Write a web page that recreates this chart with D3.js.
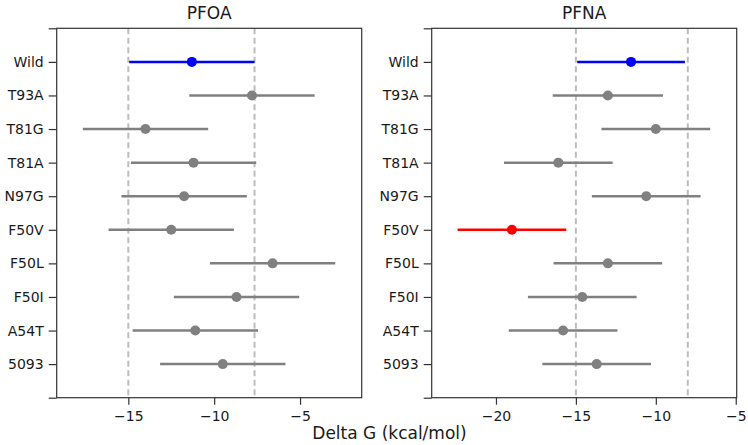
<!DOCTYPE html>
<html>
<head>
<meta charset="utf-8">
<script src="https://cdn.jsdelivr.net/npm/d3@7"></script>
<style>
  html, body { margin: 0; padding: 0; background: #fff; }
  svg { display: block; font-family: "DejaVu Sans", sans-serif; }
</style>
</head>
<body>
<svg id="chart" width="748" height="445"></svg>
<script>
const categories = ["Wild", "T93A", "T81G", "T81A", "N97G", "F50V", "F50L", "F50I", "A54T", "5093"];
const pfoaMean = [-11.3, -7.8, -14.0, -11.2, -11.75, -12.5, -6.6, -8.7, -11.1, -9.5];
const pfoaErr  = [3.65, 3.65, 3.65, 3.65, 3.65, 3.65, 3.65, 3.65, 3.65, 3.65];
const pfnaMean = [-11.55, -13.0, -10.0, -16.1, -10.6, -19.0, -13.0, -14.6, -15.8, -13.7];
const pfnaErr  = [3.37, 3.45, 3.4, 3.4, 3.4, 3.4, 3.4, 3.4, 3.4, 3.4];
const pfoaRefLines = [-15, -7.65];
const pfnaRefLines = [-15, -8];
const pfoaTicks = [-15, -10, -5];
const pfnaTicks = [-20, -15, -10, -5];
const pfoaDomain = [-19.17, -1.41];
const pfnaDomain = [-24.02, -4.94];
const titles = ["PFOA", "PFNA"];
const xLabel = "Delta G (kcal/mol)";

(function () {
const svg = d3.select("#chart");
const plotTop = 28.3, plotBottom = 397.7;

function colorFor(panel, cat) {
  if (cat === "Wild") return "#0000ff";
  if (panel === 1 && cat === "F50V") return "#ff0000";
  return "#808080";
}

const panels = [
  { left: 56.7, right: 361.7, mean: pfoaMean, err: pfoaErr, refs: pfoaRefLines, ticks: pfoaTicks, domain: pfoaDomain, title: titles[0] },
  { left: 431.7, right: 736.7, mean: pfnaMean, err: pfnaErr, refs: pfnaRefLines, ticks: pfnaTicks, domain: pfnaDomain, title: titles[1] }
];

const y = d3.scaleLinear().domain([-1, categories.length]).range([plotTop, plotBottom]);

panels.forEach((p, pi) => {
  const x = d3.scaleLinear().domain(p.domain).range([p.left, p.right]);
  const g = svg.append("g");

  g.selectAll("line.ref").data(p.refs).enter().append("line")
    .attr("x1", d => x(d)).attr("x2", d => x(d))
    .attr("y1", plotTop).attr("y2", plotBottom)
    .attr("stroke", "#bdbdbd").attr("stroke-width", 2)
    .attr("stroke-dasharray", "6,3.5");

  const rows = categories.map((c, i) => ({ c, i, m: p.mean[i], e: p.err[i] }));

  g.selectAll("line.err").data(rows).enter().append("line")
    .attr("x1", d => x(d.m - d.e)).attr("x2", d => x(d.m + d.e))
    .attr("y1", d => y(d.i)).attr("y2", d => y(d.i))
    .attr("stroke", d => colorFor(pi, d.c)).attr("stroke-width", 2.5);

  g.selectAll("circle.pt").data(rows).enter().append("circle")
    .attr("cx", d => x(d.m)).attr("cy", d => y(d.i)).attr("r", 5)
    .attr("fill", d => colorFor(pi, d.c));

  g.append("rect")
    .attr("x", p.left).attr("y", plotTop)
    .attr("width", p.right - p.left).attr("height", plotBottom - plotTop)
    .attr("fill", "none").attr("stroke", "#333").attr("stroke-width", 1.2);

  const xAxis = d3.axisBottom(x).tickValues(p.ticks).tickSize(7).tickPadding(6)
    .tickFormat(d3.format("d"));
  const xa = g.append("g").attr("transform", `translate(0,${plotBottom})`).call(xAxis);
  xa.select(".domain").remove();
  xa.selectAll("line").attr("stroke", "#333").attr("stroke-width", 1.2);
  xa.selectAll("text").attr("font-family", "DejaVu Sans").attr("font-size", 14).attr("fill", "#1a1a1a");

  const yAxis = d3.axisLeft(y).tickValues(d3.range(-1, categories.length + 1))
    .tickSize(8).tickPadding(5)
    .tickFormat(d => (d >= 0 && d < categories.length) ? categories[d] : "");
  const ya = g.append("g").attr("transform", `translate(${p.left},0)`).call(yAxis);
  ya.select(".domain").remove();
  ya.selectAll("line").attr("stroke", "#333").attr("stroke-width", 1.2);
  ya.selectAll("text").attr("font-family", "DejaVu Sans").attr("font-size", 14).attr("fill", "#1a1a1a");

  g.append("text")
    .attr("x", (p.left + p.right) / 2).attr("y", 18.5)
    .attr("text-anchor", "middle")
    .attr("font-size", 17).attr("fill", "#1a1a1a")
    .text(p.title);
});

svg.append("text")
  .attr("x", 389.5).attr("y", 438.5)
  .attr("text-anchor", "middle")
  .attr("font-size", 17).attr("fill", "#1a1a1a")
  .text(xLabel);
})();
</script>
</body>
</html>
